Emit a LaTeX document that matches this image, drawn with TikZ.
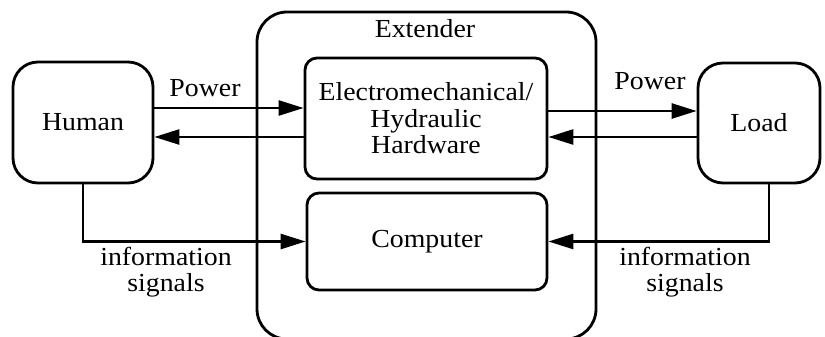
\documentclass[tikz,border=0pt]{standalone}
\usepackage{fontspec}
\setmainfont{Liberation Serif}[FakeStretch=1.07]
\usetikzlibrary{arrows.meta}
\begin{document}
\begin{tikzpicture}[x=1pt,y=-1pt,
  every node/.style={font=\fontsize{26}{26.5}\selectfont, inner sep=0pt},
  box/.style={draw, line width=2.8pt, rounded corners=#1, align=center},
  box/.default=12pt,
  arr/.style={line width=2.6pt, -{Triangle[length=25pt,width=15pt]}},
  lbl/.style={anchor=base, align=center}]
\useasboundingbox (0,0) rectangle (825,337);
\node[box=30pt, minimum width=339pt, minimum height=327pt] (ext) at (426.5,175.5) {};
\node[lbl] (extlbl) at (425,38) {Extender};
\node[box=25pt, minimum width=140pt, minimum height=121pt] (human) at (83,122.5) {Human};
\node[box=12pt, minimum width=242pt, minimum height=121pt] (hw) at (426,118.5) {Electromechanical/\\Hydraulic\\Hardware};
\node[box=12pt, minimum width=240pt, minimum height=97pt] (comp) at (427,241.5) {Computer};
\node[box=25pt, minimum width=122pt, minimum height=120pt] (load) at (759,123) {Load};
\draw[arr] (human.east |- 0,108) -- (hw.west |- 0,108);
\draw[arr] (hw.west |- 0,137) -- (human.east |- 0,137);
\draw[arr] (hw.east |- 0,111) -- (load.west |- 0,111);
\draw[arr] (load.west |- 0,137) -- (hw.east |- 0,137);
\draw[arr] (human.south) |- (comp.west);
\draw[arr] ([xshift=10pt]load.south) |- (comp.east);
\node[lbl] (pw1) at (205,96) {Power};
\node[lbl] (pw2) at (650,89) {Power};
\node[align=center] (info1) at (166,272) {information\\signals};
\node[align=center] (info2) at (685,272) {information\\signals};
\end{tikzpicture}
\end{document}
